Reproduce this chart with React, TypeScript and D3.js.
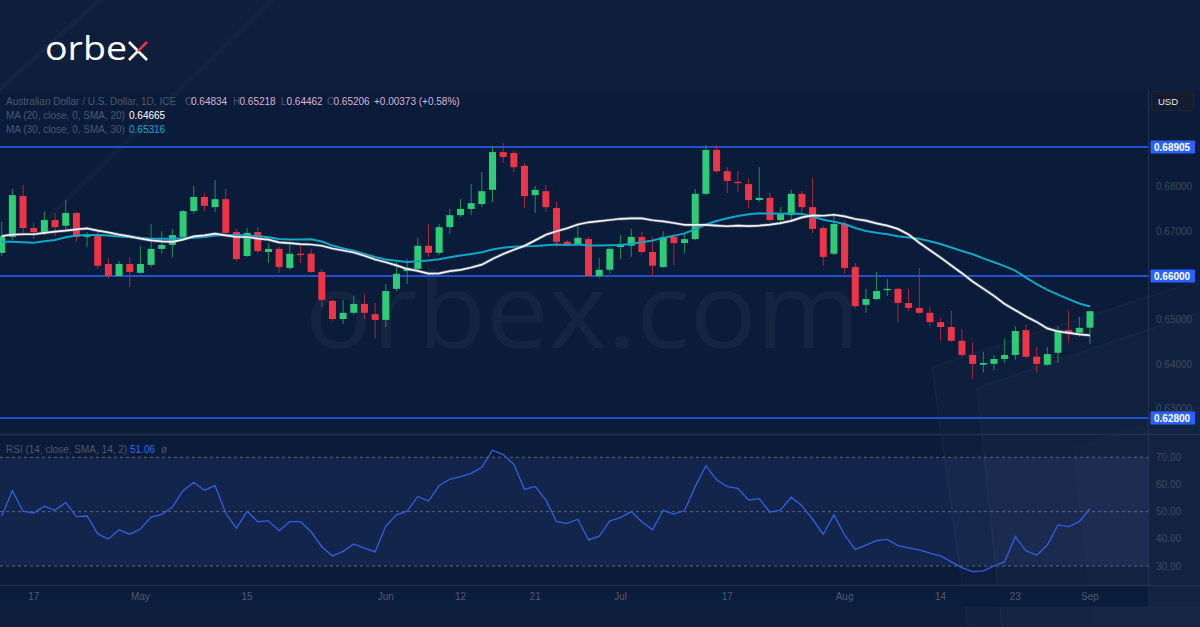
import React from "react";
import * as d3 from "d3";

const W = 1200;
const H = 627;

// ---- OHLC data (AUD/USD daily, bar 0 = Apr 12 ... bar 102 = Sep 1) ----
const opens = [
  0.6652, 0.6688, 0.678, 0.6708, 0.6697, 0.6726, 0.6713, 0.6742, 0.6688, 0.6692,
  0.6627, 0.66, 0.6627, 0.6607, 0.6625, 0.6661, 0.667, 0.6688, 0.6746, 0.6778,
  0.6755, 0.6773, 0.6699, 0.6645, 0.6699, 0.6654, 0.6661, 0.6618, 0.665, 0.665,
  0.6609, 0.6544, 0.6503, 0.6517, 0.6537, 0.6514, 0.6501, 0.6571, 0.6611, 0.6616,
  0.6668, 0.6652, 0.671, 0.6737, 0.6751, 0.6762, 0.6794, 0.6879, 0.6877, 0.6848,
  0.6782, 0.6791, 0.6753, 0.6677, 0.6672, 0.6683, 0.66, 0.6614, 0.6665, 0.6668,
  0.6688, 0.6654, 0.662, 0.6688, 0.6674, 0.6683, 0.6785, 0.6884, 0.6836, 0.6812,
  0.6807, 0.6771, 0.6776, 0.6726, 0.6737, 0.6785, 0.6755, 0.6708, 0.665, 0.6717,
  0.662, 0.6535, 0.6548, 0.6568, 0.6571, 0.6539, 0.6528, 0.6517, 0.6496, 0.6485,
  0.6454, 0.6422, 0.64, 0.6402, 0.6413, 0.6422, 0.6478, 0.6418, 0.64, 0.6427,
  0.6478, 0.6472, 0.64834,
];
const highs = [
  0.6722, 0.6796, 0.6805, 0.6719, 0.6746, 0.6742, 0.6771, 0.6744, 0.6699, 0.6704,
  0.6641, 0.6634, 0.6643, 0.6668, 0.6717, 0.6701, 0.6706, 0.6749, 0.6803, 0.6787,
  0.6816, 0.6796, 0.6706, 0.6708, 0.671, 0.6674, 0.6665, 0.6674, 0.6668, 0.6661,
  0.6616, 0.6546, 0.6546, 0.6555, 0.6559, 0.6539, 0.6582, 0.6636, 0.6638, 0.6686,
  0.6717, 0.6717, 0.6751, 0.6773, 0.6807, 0.6834, 0.6893, 0.69, 0.6882, 0.6855,
  0.6803, 0.6805, 0.6767, 0.6681, 0.6719, 0.6688, 0.6641, 0.6665, 0.6692, 0.6706,
  0.6699, 0.6688, 0.6701, 0.6695, 0.6697, 0.6796, 0.6895, 0.6895, 0.6845, 0.6836,
  0.6821, 0.6845, 0.6787, 0.6755, 0.6794, 0.6791, 0.6821, 0.6713, 0.6735, 0.6724,
  0.6629, 0.6571, 0.6609, 0.6593, 0.6573, 0.6571, 0.6618, 0.6532, 0.6505, 0.6521,
  0.6481, 0.6451, 0.6429, 0.6422, 0.6458, 0.6487, 0.649, 0.644, 0.644, 0.6487,
  0.6523, 0.6508, 0.65218,
];
const lows = [
  0.6645, 0.6681, 0.6697, 0.6683, 0.6692, 0.669, 0.6704, 0.6677, 0.6665, 0.6616,
  0.6593, 0.6598, 0.6575, 0.6605, 0.662, 0.665, 0.6641, 0.6683, 0.674, 0.6746,
  0.6744, 0.6692, 0.6634, 0.6643, 0.6652, 0.6629, 0.6607, 0.6614, 0.6629, 0.6607,
  0.653, 0.6499, 0.6492, 0.6512, 0.6503, 0.646, 0.6485, 0.6566, 0.6582, 0.6614,
  0.6643, 0.6647, 0.6695, 0.6733, 0.6737, 0.6755, 0.6767, 0.6855, 0.6834, 0.6753,
  0.6742, 0.6744, 0.6665, 0.667, 0.667, 0.6598, 0.6595, 0.6605, 0.6638, 0.6643,
  0.665, 0.66, 0.6618, 0.6625, 0.6652, 0.6681, 0.6782, 0.6832, 0.6787, 0.6789,
  0.6753, 0.6767, 0.6722, 0.6715, 0.6726, 0.6742, 0.6697, 0.6623, 0.6647, 0.6605,
  0.6528, 0.6517, 0.6546, 0.6555, 0.6496, 0.6521, 0.6514, 0.6487, 0.6454, 0.6451,
  0.6418, 0.6368, 0.6382, 0.6388, 0.6404, 0.6411, 0.6415, 0.6382, 0.6397, 0.6404,
  0.6451, 0.6463, 0.64462,
];
const closes = [
  0.669, 0.6782, 0.6708, 0.6699, 0.6726, 0.671, 0.6742, 0.6688, 0.6692, 0.6623,
  0.66, 0.6627, 0.6609, 0.6627, 0.6661, 0.667, 0.6692, 0.6746, 0.6778, 0.6758,
  0.6773, 0.6697, 0.6638, 0.6697, 0.6656, 0.6661, 0.662, 0.665, 0.6647, 0.6609,
  0.6546, 0.6503, 0.6517, 0.6537, 0.6517, 0.6501, 0.6566, 0.6605, 0.6618, 0.6668,
  0.6652, 0.671, 0.6737, 0.6751, 0.6764, 0.6791, 0.6879, 0.6868, 0.6845, 0.678,
  0.6794, 0.6755, 0.6677, 0.6672, 0.6686, 0.66, 0.6614, 0.6661, 0.6672, 0.6688,
  0.6654, 0.6623, 0.6688, 0.6674, 0.6683, 0.6785, 0.6884, 0.6836, 0.6814, 0.6809,
  0.6771, 0.6776, 0.6726, 0.674, 0.6785, 0.6755, 0.6706, 0.6643, 0.6717, 0.6618,
  0.6532, 0.6548, 0.6566, 0.6571, 0.6539, 0.6528, 0.6517, 0.6496, 0.6485, 0.6454,
  0.6422, 0.6402, 0.6404, 0.6413, 0.6422, 0.6476, 0.6418, 0.6402, 0.6424, 0.6478,
  0.6472, 0.6483, 0.65206,
];

// moving-average values for the bars before enough closes are on screen
const ma20Lead = [
  0.669, 0.6693, 0.6694, 0.6694, 0.6697, 0.67, 0.6702, 0.6705, 0.6707, 0.6702,
  0.6698, 0.6693, 0.6689, 0.6684, 0.668, 0.6678, 0.6677, 0.6682, 0.6689,
];
const ma30Lead = [
  0.6677, 0.6677, 0.6676, 0.6675, 0.6678, 0.6681, 0.6687, 0.6691, 0.6692, 0.6692,
  0.6691, 0.6689, 0.6687, 0.6686, 0.6684, 0.6684, 0.6684, 0.6685, 0.6686, 0.6688,
  0.6691, 0.6692, 0.6692, 0.6691, 0.669, 0.6687, 0.6683, 0.6682, 0.6682,
];

// RSI(14) values per bar
const rsiValues = [
  48.4, 57.7, 50.2, 49.5, 52.0, 50.5, 53.4, 48.2, 48.4, 41.8,
  39.9, 43.3, 41.7, 43.6, 48.0, 49.0, 51.7, 57.7, 60.8, 57.9,
  59.6, 49.4, 43.9, 50.1, 46.3, 46.6, 43.0, 46.3, 46.3, 42.6,
  37.1, 33.7, 35.4, 38.1, 36.6, 35.2, 44.7, 48.8, 50.2, 55.6,
  53.9, 59.6, 61.9, 62.9, 64.1, 66.3, 72.6, 71.0, 67.4, 58.2,
  59.3, 54.3, 46.3, 45.7, 47.2, 39.6, 41.0, 46.6, 47.8, 50.0,
  46.3, 43.3, 50.5, 49.1, 50.4, 59.2, 66.9, 61.7, 59.2, 58.6,
  54.3, 54.8, 49.8, 50.6, 55.3, 52.2, 47.2, 41.7, 48.8, 41.4,
  36.1, 37.7, 39.3, 39.8, 37.5, 36.7, 35.9, 34.7, 33.7, 31.5,
  29.4, 27.9, 28.2, 30.0, 31.6, 40.8, 35.6, 34.0, 37.7, 45.1,
  44.5, 46.3, 51.06,
];

// legend read-outs as printed on the chart
const ma20Last = 0.64665;
const ma30Last = 0.65316;
const changeAbs = 0.00373;
const changePct = 0.58;

const tickIndex = [3, 13, 23, 36, 43, 50, 58, 68, 79, 88, 95, 102];
const tickLabels = ["17", "May", "15", "Jun", "12", "21", "Jul", "17", "Aug", "14", "23", "Sep"];
const priceTicks = [0.69, 0.68, 0.67, 0.66, 0.65, 0.64, 0.63];
const levelLines = [0.68905, 0.66, 0.628];
const rsiTicks = [70, 60, 50, 40, 30];
const rsiDashed = [70, 50, 30];

const FONT = "'Liberation Sans', Arial, sans-serif";
const GREEN = "#2ecc76";
const RED = "#ef3447";
const GREEN_WICK = "#1f8f55";
const RED_WICK = "#a82b3d";
const BLUE = "#2962ff";
const GREY = "#4c586d";
const SEP = "#24324e";

function sma(values: number[], lead: number[], n: number): number[] {
  return values.map((_, i) =>
    i < n - 1 ? lead[i] : (d3.mean(values.slice(i - n + 1, i + 1)) as number)
  );
}

export default function App() {
  const n = closes.length;
  const x = d3.scaleLinear().domain([0, n - 1]).range([1.7, 1090]);
  const y = d3.scaleLinear().domain([0.628, 0.68905]).range([418, 147]);
  const ry = d3.scaleLinear().domain([30, 70]).range([566, 457.3]);

  const ma20 = sma(closes, ma20Lead, 20);
  const ma30 = sma(closes, ma30Lead, 30);

  const priceLine = d3
    .line<number>()
    .x((_, i) => x(i))
    .y((d) => y(d));
  const rsiLine = d3
    .line<number>()
    .x((_, i) => x(i))
    .y((d) => ry(d));

  const bodyW = 7;
  const axisX = 1148.5;

  // tick labels fully hidden behind a level label are not drawn
  const visibleTicks = priceTicks.filter((t) =>
    levelLines.every((v) => Math.abs(y(t) - y(v)) > 8)
  );

  return (
    <svg
      width={W}
      height={H}
      viewBox={`0 0 ${W} ${H}`}
      style={{ position: "absolute", left: 0, top: 0, display: "block" }}
      fontFamily={FONT}
    >
      <defs>
        <clipPath id="mainClip">
          <rect x={0} y={90} width={axisX} height={344} />
        </clipPath>
        <clipPath id="rsiClip">
          <rect x={0} y={435} width={axisX} height={150} />
        </clipPath>
      </defs>

      {/* backgrounds */}
      <rect x={0} y={0} width={W} height={H} fill="#0e1e3b" />
      <rect x={0} y={90} width={W} height={516} fill="#0a1c39" />
      <rect x={0} y={ry(70)} width={axisX} height={ry(30) - ry(70)} fill="#14254b" />

      {/* decorative faint shapes */}
      <g fill="#ffffff">
        <polygon points="932,367 1200,280 1200,627 968,627" opacity={0.014} />
        <polygon points="977,388 1200,312 1200,627 1002,627" opacity={0.014} />
        <polygon points="1072,448 1200,405 1200,627 1093,627" opacity={0.01} />
        <polygon points="0,86 96,0 103,0 0,92" opacity={0.03} />
        <polygon points="40,222 268,0 276,0 46,224" opacity={0.025} />
      </g>
      <g stroke="#ffffff" strokeWidth={1.2} fill="none" opacity={0.04}>
        <polyline points="968,627 932,367 1200,280" />
        <polyline points="1002,627 977,388 1200,312" />
      </g>

      {/* watermark */}
      <text
        x={305}
        y={348}
        fontSize={104}
        fontFamily="'Open Sans', sans-serif"
        fill="#ffffff"
        opacity={0.04}
        textLength={555}
        lengthAdjust="spacingAndGlyphs"
      >
        orbex.com
      </text>

      {/* logo */}
      <text
        x={45}
        y={59.5}
        fontSize={33}
        fontFamily="'Open Sans', sans-serif"
        fill="#ffffff"
        textLength={82}
        lengthAdjust="spacingAndGlyphs"
      >
        orbe
      </text>
      <g strokeWidth={2.6} strokeLinecap="butt">
        <line x1={129} y1={42} x2={147} y2={60} stroke="#ffffff" />
        <line x1={129} y1={60} x2={138} y2={51} stroke="#ffffff" />
        <line x1={138} y1={51} x2={147} y2={42} stroke="#e8303f" />
      </g>

      {/* separators */}
      <line x1={0} x2={W} y1={434.5} y2={434.5} stroke={SEP} strokeWidth={1.5} />
      <line x1={0} x2={W} y1={585.5} y2={585.5} stroke={SEP} strokeWidth={1.5} />
      <line x1={axisX} x2={axisX} y1={90} y2={606} stroke={SEP} strokeWidth={1} />

      {/* price pane */}
      <g clipPath="url(#mainClip)">
        {levelLines.map((v) => (
          <line key={v} x1={0} x2={axisX} y1={y(v)} y2={y(v)} stroke={BLUE} strokeWidth={1.5} />
        ))}
        {closes.map((c, i) => {
          const o = opens[i];
          const up = c >= o;
          const top = y(Math.max(o, c));
          const bot = y(Math.min(o, c));
          return (
            <g key={i}>
              <line
                x1={x(i)}
                x2={x(i)}
                y1={y(highs[i])}
                y2={y(lows[i])}
                stroke={up ? GREEN_WICK : RED_WICK}
                strokeWidth={1}
              />
              <rect
                x={x(i) - bodyW / 2}
                y={top}
                width={bodyW}
                height={Math.max(1.2, bot - top)}
                fill={up ? GREEN : RED}
              />
            </g>
          );
        })}
        <path d={priceLine(ma30) || ""} fill="none" stroke="#12a7c7" strokeWidth={2} />
        <path d={priceLine(ma20) || ""} fill="none" stroke="#7d8796" strokeWidth={3.2} opacity={0.55} />
        <path d={priceLine(ma20) || ""} fill="none" stroke="#f2f4f7" strokeWidth={1.7} />
      </g>

      {/* legend */}
      <g fontSize={10}>
        <text x={6} y={105} fill={GREY}>Australian Dollar / U.S. Dollar, 1D, ICE</text>
        <text x={185} y={105} fill={GREY}>O</text>
        <text x={191} y={105} fill="#dcb1d5">{opens[n - 1].toFixed(5)}</text>
        <text x={233} y={105} fill={GREY}>H</text>
        <text x={239.5} y={105} fill="#dcb1d5">{highs[n - 1].toFixed(5)}</text>
        <text x={281} y={105} fill={GREY}>L</text>
        <text x={286.5} y={105} fill="#dcb1d5">{lows[n - 1].toFixed(5)}</text>
        <text x={327} y={105} fill={GREY}>C</text>
        <text x={333.5} y={105} fill="#dcb1d5">{closes[n - 1].toFixed(5)}</text>
        <text x={374} y={105} fill="#dcb1d5">
          {`+${changeAbs.toFixed(5)} (+${changePct.toFixed(2)}%)`}
        </text>
        <text x={6} y={118.5} fill={GREY}>MA (20, close, 0, SMA, 20)</text>
        <text x={129} y={118.5} fill="#ffffff">{ma20Last.toFixed(5)}</text>
        <text x={6} y={132.5} fill={GREY}>MA (30, close, 0, SMA, 30)</text>
        <text x={129} y={132.5} fill="#17a9c9">{ma30Last.toFixed(5)}</text>
      </g>

      {/* price axis labels */}
      <g fontSize={10} fill="#3f4a5e">
        {visibleTicks.map((t) => (
          <text key={t} x={1156} y={y(t) + 3}>
            {t.toFixed(5)}
          </text>
        ))}
      </g>
      {levelLines.map((v) => (
        <g key={v}>
          <rect x={1150.5} y={y(v) - 6.5} width={44.5} height={13} fill={BLUE} rx={1} />
          <text x={1154} y={y(v) + 3.6} fontSize={10} fontWeight="bold" fill="#ffffff">
            {v.toFixed(5)}
          </text>
        </g>
      ))}
      <rect x={1151.5} y={91.5} width={42} height={19} rx={3} fill="#141b2c" stroke="#1d2538" />
      <text x={1158} y={104.5} fontSize={9.5} fill="#e6e9ef">USD</text>

      {/* RSI pane */}
      <g clipPath="url(#rsiClip)">
        {rsiDashed.map((v) => (
          <line
            key={v}
            x1={0}
            x2={axisX}
            y1={ry(v)}
            y2={ry(v)}
            stroke="#5b6579"
            strokeWidth={1}
            strokeDasharray="3 3"
          />
        ))}
        <path d={rsiLine(rsiValues) || ""} fill="none" stroke="#2e60e0" strokeWidth={1.3} />
      </g>
      <g fontSize={10}>
        <text x={6} y={452.5} fill={GREY}>RSI (14, close, SMA, 14, 2)</text>
        <text x={130} y={452.5} fill="#2e6af0">{rsiValues[n - 1].toFixed(2)}</text>
        <text x={161} y={452.5} fill={GREY}>ø</text>
      </g>
      <g fontSize={10} fill="#3f4a5e">
        {rsiTicks.map((t) => (
          <text key={t} x={1156} y={ry(t) + 3.5}>
            {t.toFixed(2)}
          </text>
        ))}
      </g>

      {/* time axis */}
      <rect x={0} y={586.5} width={axisX} height={20} fill="#0a1d3c" />
      <g fontSize={10} fill="#4f5a6e" textAnchor="middle">
        {tickIndex.map((t, k) => (
          <text key={k} x={x(t)} y={600}>
            {tickLabels[k]}
          </text>
        ))}
      </g>
    </svg>
  );
}
